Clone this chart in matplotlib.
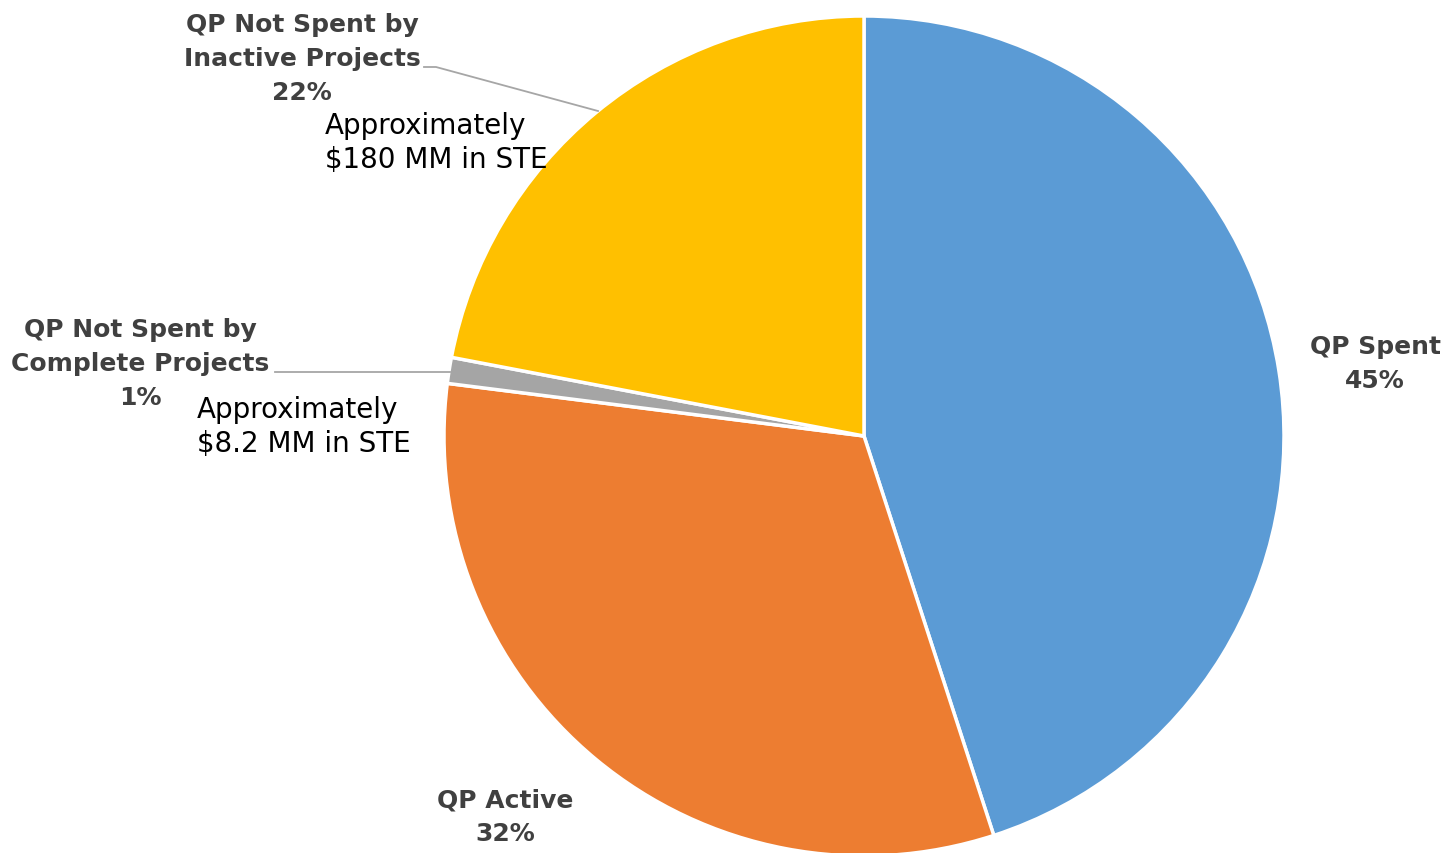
import matplotlib.pyplot as plt

# Quality-point allocation shares (%)
categories = ['QP Spent', 'QP Active', 'QP Not Spent by\nComplete Projects',
              'QP Not Spent by\nInactive Projects']
shares = [45, 32, 1, 22]
colors = ['#5B9BD5', '#ED7D31', '#A5A5A5', '#FFC000']
notes = ['Approximately\n$180 MM in STE', 'Approximately\n$8.2 MM in STE']

plt.rcParams['font.family'] = ['DejaVu Sans']

W, H = 1445, 854
fig = plt.figure(figsize=(W / 100, H / 100), dpi=100)
ax = fig.add_axes([0, 0, 1, 1])

cx, cy, rad = 864, H - 437, 420
ax.pie(shares, colors=colors, startangle=90, counterclock=False,
       center=(cx, cy), radius=rad, frame=True,
       wedgeprops=dict(edgecolor='white', linewidth=2.5))
ax.set_xlim(0, W)
ax.set_ylim(0, H)
ax.set_aspect('equal')
ax.axis('off')

lab_col = '#404040'
# label anchor points (pixel coords from top-left)
label_pos = [(1375, 364), (505, 817), (140, 364), (302, 59)]
for cat, pct, (x, y) in zip(categories, shares, label_pos):
    ax.text(x, H - y, f'{cat}\n{pct}%', ha='center', va='center',
            fontsize=18, fontweight='bold', color=lab_col, linespacing=1.52)

# leader lines
ax.plot([424, 436, 598], [H - 68, H - 68, H - 112], color='#A6A6A6', lw=1.3)
ax.plot([275, 450], [H - 373, H - 373], color='#A6A6A6', lw=1.3)

ax.text(325, H - 143, notes[0], ha='left', va='center', fontsize=20,
        color='black', linespacing=1.26)
ax.text(197, H - 427, notes[1], ha='left', va='center', fontsize=20,
        color='black', linespacing=1.26)

fig.savefig('out.png', dpi=100)
